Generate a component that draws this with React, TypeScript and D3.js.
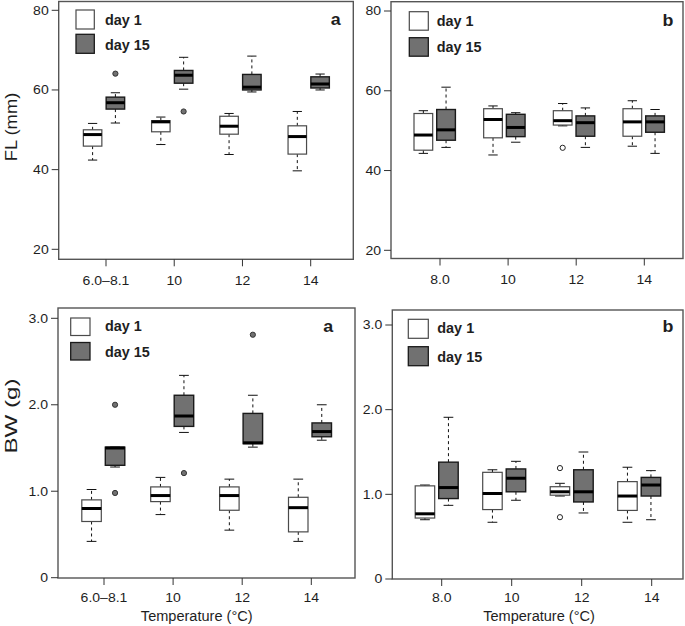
import React from "react";
import * as d3 from "d3";

// ---------- data ----------
const flCategoriesA = ["6.0–8.1", "10", "12", "14"];
const flCategoriesB = ["8.0", "10", "12", "14"];
const bwCategoriesA = ["6.0–8.1", "10", "12", "14"];
const bwCategoriesB = ["8.0", "10", "12", "14"];

// [lower whisker, Q1, median, Q3, upper whisker]
const flA_day1 = [[42.4, 45.9, 48.8, 50.0, 51.6], [46.3, 49.5, 52.0, 52.3, 53.2], [43.8, 48.9, 50.9, 53.4, 54.1], [39.7, 43.9, 48.3, 51.0, 54.6]];
const flA_day15 = [[51.7, 55.2, 56.8, 58.2, 59.3], [60.2, 61.7, 63.7, 64.9, 68.2], [59.5, 60.0, 60.7, 63.9, 68.5], [60.0, 60.5, 61.5, 63.3, 64.0]];
const flA_out1: number[][] = [[], [], [], []];
const flA_out15 = [[64.1], [54.6], [], []];

const flB_day1 = [[44.3, 45.1, 48.9, 54.3, 55.0], [43.9, 48.2, 52.8, 55.5, 56.2], [51.2, 51.4, 52.5, 55.0, 56.8], [46.1, 48.6, 52.2, 55.5, 57.5]];
const flB_day15 = [[45.8, 47.6, 50.2, 55.3, 60.9], [47.1, 48.5, 50.8, 54.1, 54.5], [45.8, 48.6, 52.0, 53.7, 55.7], [44.3, 49.6, 52.2, 53.7, 55.3]];
const flB_out1 = [[], [], [45.7], []];
const flB_out15: number[][] = [[], [], [], []];

const bwA_day1 = [[0.42, 0.65, 0.80, 0.90, 1.02], [0.73, 0.88, 0.95, 1.05, 1.16], [0.55, 0.78, 0.95, 1.05, 1.14], [0.42, 0.53, 0.81, 0.93, 1.14]];
const bwA_day15 = [[1.28, 1.30, 1.50, 1.51, 1.51], [1.68, 1.75, 1.87, 2.11, 2.34], [1.51, 1.55, 1.56, 1.90, 2.11], [1.59, 1.63, 1.69, 1.79, 2.00]];
const bwA_out1: number[][] = [[], [], [], []];
const bwA_out15 = [[2.00, 0.98], [1.21], [2.81], []];

const bwB_day1 = [[0.70, 0.72, 0.77, 1.10, 1.11], [0.67, 0.82, 1.01, 1.26, 1.29], [0.98, 0.99, 1.03, 1.09, 1.13], [0.67, 0.81, 0.98, 1.15, 1.32]];
const bwB_day15 = [[0.87, 0.95, 1.08, 1.38, 1.91], [0.93, 1.03, 1.19, 1.30, 1.39], [0.78, 0.91, 1.03, 1.29, 1.50], [0.70, 0.98, 1.11, 1.20, 1.28]];
const bwB_out1 = [[], [], [1.31, 0.73], []];
const bwB_out15: number[][] = [[], [], [], []];

const flTicks = [20, 40, 60, 80];
const bwTicks = [0, 1, 2, 3];
const legendLabels = ["day 1", "day 15"];
const xTitle = "Temperature (°C)";

// ---------- style ----------
const FONT = "'Liberation Sans', Arial, Helvetica, sans-serif";
const GRAY = "#717171";
const FRAME = "#555555";
const TXT = "#1e1e1e";

type Panel = {
  cats: string[];
  d1: number[][];
  d15: number[][];
  o1: number[][];
  o15: number[][];
  frame: [number, number, number, number];
  yDomain: [number, number];
  yRange: [number, number];
  yTicks: number[];
  yFmt: (v: number) => string;
  boxRange: [number, number];
  tickRange: [number, number];
  boxW: number;
  gap: number;
  xLabelY: number;
  legend: { x: number; y1: number; y2: number; w: number; h: number; tx: number; b1: number; b2: number };
  letter: string;
  letterX: number;
  letterY: number;
  yTitle?: { text: string; y: number; stretch: number };
  xTitle?: { x: number; y: number };
};

const fmtInt = (v: number) => String(v);
const fmtBw = (v: number) => (v === 0 ? "0" : v.toFixed(1));

const panels: Panel[] = [
  {
    cats: flCategoriesA, d1: flA_day1, d15: flA_day15, o1: flA_out1, o15: flA_out15,
    frame: [58.7, 1.5, 353.3, 259.3], yDomain: [20, 80], yRange: [249.3, 10.3], yTicks: flTicks, yFmt: fmtInt,
    boxRange: [104, 308.7], tickRange: [106, 310.7], boxW: 18.5, gap: 4.3, xLabelY: 285,
    legend: { x: 76, y1: 10, y2: 34.3, w: 18.3, h: 19, tx: 105, b1: 25, b2: 50 },
    letter: "a", letterX: 340.7, letterY: 25,
    yTitle: { text: "FL (mm)", y: 127, stretch: 1.08 },
  },
  {
    cats: flCategoriesB, d1: flB_day1, d15: flB_day15, o1: flB_out1, o15: flB_out15,
    frame: [391, 1.7, 683, 258.5], yDomain: [20, 80], yRange: [250.3, 11], yTicks: flTicks, yFmt: fmtInt,
    boxRange: [434.7, 643.7], tickRange: [440, 644.3], boxW: 18.7, gap: 4, xLabelY: 283.5,
    legend: { x: 409.3, y1: 11.7, y2: 37.7, w: 19, h: 18.5, tx: 436.7, b1: 26, b2: 52 },
    letter: "b", letterX: 673.3, letterY: 26,
  },
  {
    cats: bwCategoriesA, d1: bwA_day1, d15: bwA_day15, o1: bwA_out1, o15: bwA_out15,
    frame: [58, 308, 355, 578], yDomain: [0, 3], yRange: [577.7, 318.3], yTicks: bwTicks, yFmt: fmtBw,
    boxRange: [103.3, 310], tickRange: [104, 311.3], boxW: 19.5, gap: 4, xLabelY: 601.7,
    legend: { x: 70.7, y1: 318, y2: 342.5, w: 19.3, h: 17.5, tx: 105, b1: 331, b2: 357 },
    letter: "a", letterX: 333.3, letterY: 331.7,
    yTitle: { text: "BW (g)", y: 416, stretch: 1.42 },
    xTitle: { x: 196.7, y: 620.5 },
  },
  {
    cats: bwCategoriesB, d1: bwB_day1, d15: bwB_day15, o1: bwB_out1, o15: bwB_out15,
    frame: [392.3, 310, 683, 579], yDomain: [0, 3], yRange: [579, 325], yTicks: bwTicks, yFmt: fmtBw,
    boxRange: [436.7, 639.2], tickRange: [441.7, 651.7], boxW: 19.5, gap: 4, xLabelY: 601.7,
    legend: { x: 408.3, y1: 319.3, y2: 346.7, w: 20, h: 19, tx: 437.3, b1: 333.3, b2: 361.7 },
    letter: "b", letterX: 673.3, letterY: 331.7,
    xTitle: { x: 539, y: 621 },
  },
];

const SX = 1.17; // horizontal stretch of the reference text

function Txt({ x, y, anchor, size, weight, sx = SX, dy, children }: { x: number; y: number; anchor?: string; size: number; weight?: string; sx?: number; dy?: string; children: React.ReactNode }) {
  return (
    <text transform={`translate(${x},${y}) scale(${sx},1)`} dy={dy} textAnchor={anchor} fontSize={size} fontWeight={weight} fill={TXT}>
      {children}
    </text>
  );
}

function BoxMark({ cx, w, s, y, fill, stroke, outliers }: { cx: number; w: number; s: number[]; y: d3.ScaleLinear<number, number>; fill: string; stroke: string; outliers: number[] }) {
  const [lo, q1, med, q3, hi] = s;
  const capW = w * 0.5;
  const filled = fill !== "#ffffff";
  return (
    <g>
      <line x1={cx} x2={cx} y1={y(q3)} y2={y(hi)} stroke="#111" strokeWidth={1} strokeDasharray="3,3" />
      <line x1={cx} x2={cx} y1={y(q1)} y2={y(lo)} stroke="#111" strokeWidth={1} strokeDasharray="3,3" />
      <line x1={cx - capW / 2} x2={cx + capW / 2} y1={y(hi)} y2={y(hi)} stroke="#111" strokeWidth={1} />
      <line x1={cx - capW / 2} x2={cx + capW / 2} y1={y(lo)} y2={y(lo)} stroke="#111" strokeWidth={1} />
      <rect x={cx - w / 2} y={y(q3)} width={w} height={Math.max(0.5, y(q1) - y(q3))} fill={fill} stroke={stroke} strokeWidth={filled ? 1.4 : 1.2} />
      <line x1={cx - w / 2} x2={cx + w / 2} y1={y(med)} y2={y(med)} stroke="#000" strokeWidth={3} />
      {outliers.map((o, i) => (
        <circle key={i} cx={cx} cy={y(o)} r={2.6} fill={filled ? GRAY : "#ffffff"} stroke={filled ? "#333" : "#222"} strokeWidth={1} />
      ))}
    </g>
  );
}

function PanelView({ p }: { p: Panel }) {
  const [fx0, fy0, fx1, fy1] = p.frame;
  const y = d3.scaleLinear().domain(p.yDomain).range(p.yRange);
  const xBox = d3.scalePoint<string>().domain(p.cats).range(p.boxRange);
  const xTick = d3.scalePoint<string>().domain(p.cats).range(p.tickRange);
  const off = (p.boxW + p.gap) / 2;
  const L = p.legend;
  return (
    <g>
      {p.cats.map((c, i) => (
        <g key={c}>
          <BoxMark cx={(xBox(c) as number) - off} w={p.boxW} s={p.d1[i]} y={y} fill="#ffffff" stroke="#4a4a4a" outliers={p.o1[i]} />
          <BoxMark cx={(xBox(c) as number) + off} w={p.boxW} s={p.d15[i]} y={y} fill={GRAY} stroke="#1a1a1a" outliers={p.o15[i]} />
        </g>
      ))}
      <rect x={fx0} y={fy0} width={fx1 - fx0} height={fy1 - fy0} fill="none" stroke={FRAME} strokeWidth={1.4} />
      {p.yTicks.map((t) => (
        <g key={t}>
          <line x1={fx0 - 7} x2={fx0} y1={y(t)} y2={y(t)} stroke="#333" strokeWidth={1} />
          <Txt x={fx0 - 10} y={y(t)} dy="0.36em" anchor="end" size={12}>{p.yFmt(t)}</Txt>
        </g>
      ))}
      {p.cats.map((c) => (
        <g key={c}>
          <line x1={xTick(c)} x2={xTick(c)} y1={fy1} y2={fy1 + 7} stroke="#333" strokeWidth={1} />
          <Txt x={xTick(c) as number} y={p.xLabelY} anchor="middle" size={12}>{c}</Txt>
        </g>
      ))}
      <rect x={L.x} y={L.y1} width={L.w} height={L.h} fill="#ffffff" stroke="#4a4a4a" strokeWidth={1.2} />
      <rect x={L.x} y={L.y2} width={L.w} height={L.h} fill={GRAY} stroke="#1a1a1a" strokeWidth={1.3} />
      <Txt x={L.tx} y={L.b1} size={14} weight="bold" sx={1.03}>{legendLabels[0]}</Txt>
      <Txt x={L.tx} y={L.b2} size={14} weight="bold" sx={1.03}>{legendLabels[1]}</Txt>
      <Txt x={p.letterX} y={p.letterY} anchor="end" size={17} weight="bold" sx={1.05}>{p.letter}</Txt>
      {p.yTitle && (
        <text transform={`translate(16.5,${p.yTitle.y}) rotate(-90) scale(${p.yTitle.stretch},1)`} textAnchor="middle" fontSize={17} fill={TXT}>{p.yTitle.text}</text>
      )}
      {p.xTitle && (
        <Txt x={p.xTitle.x} y={p.xTitle.y} anchor="middle" size={14} sx={1.04}>{xTitle}</Txt>
      )}
    </g>
  );
}

export default function App() {
  return (
    <svg width={685} height={626} viewBox="0 0 685 626" style={{ position: "absolute", left: 0, top: 0, background: "#fff", fontFamily: FONT }}>
      <rect x={0} y={0} width={685} height={626} fill="#fff" />
      {panels.map((p, i) => (
        <PanelView key={i} p={p} />
      ))}
    </svg>
  );
}
